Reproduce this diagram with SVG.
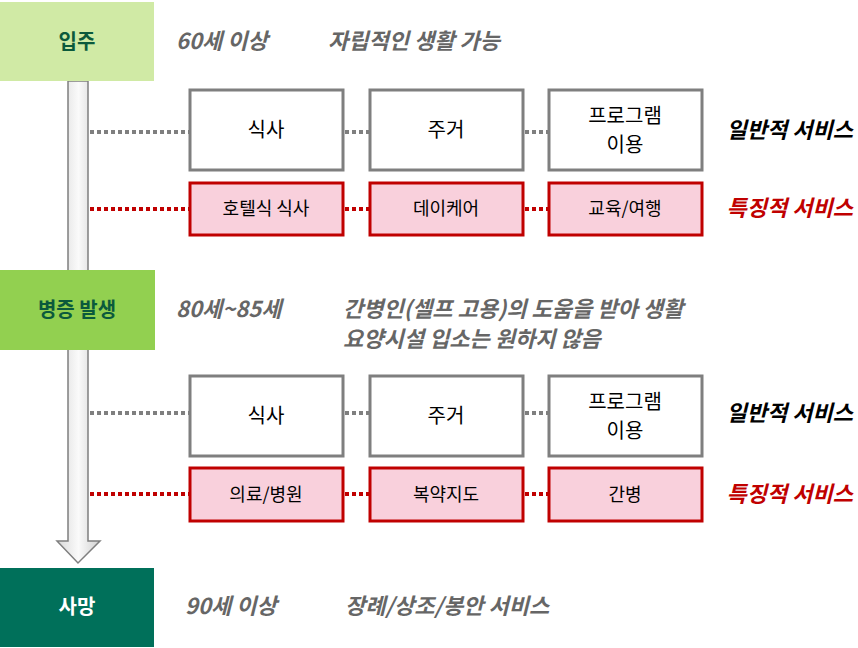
<svg xmlns="http://www.w3.org/2000/svg" width="858" height="648" viewBox="0 0 858 648">
<style>
text{font-family:"Noto Sans CJK KR","Noto Sans",sans-serif;}
.w{fill:#fff;stroke:#7f7f7f;stroke-width:3}
.p{fill:#f9d0dc;stroke:#c00000;stroke-width:3}
.t{font-size:20px;fill:#000;text-anchor:middle}
.ts{font-size:18px;fill:#000;text-anchor:middle}
.g{stroke:#7f7f7f;stroke-width:4;stroke-dasharray:4 3;fill:none}
.r{stroke:#c00000;stroke-width:4;stroke-dasharray:4 3;fill:none}
.note{font-size:22px;font-weight:bold;font-style:italic;fill:#666}
.lb{font-size:22px;font-weight:bold;font-style:italic;text-anchor:end}
.st{font-size:20px;font-weight:bold;text-anchor:middle}
</style>
<defs><linearGradient id="ag" x1="0" x2="1"><stop offset="0" stop-color="#d9d9d9"/><stop offset="0.5" stop-color="#fafafa"/><stop offset="1" stop-color="#d0d0d0"/></linearGradient></defs>
<g id="arrow"><path d="M68 81 H88 V541 H100 L78 563 L57 541 H68 Z" fill="url(#ag)" stroke="#7f7f7f" stroke-width="1.5"/></g>
<g id="connectors">
<path class="g" d="M90 132 H190 M345 132 H370 M525 132 H549"/>
<path class="r" d="M90 209 H190 M345 209 H370 M525 209 H549"/>
<path class="g" d="M90 413 H190 M345 413 H370 M525 413 H549"/>
<path class="r" d="M90 494 H190 M345 494 H370 M525 494 H549"/>
</g>
<g id="s1"><rect x="0" y="2" width="154" height="79" fill="#d0eaa5"/><text class="st" x="77" y="49" fill="#0b5a3c">입주</text></g>
<g id="s2"><rect x="0" y="270" width="155" height="80" fill="#92d050"/><text class="st" x="77" y="317" fill="#0b5a3c">병증 발생</text></g>
<g id="s3"><rect x="0" y="568" width="154" height="79" fill="#00705a"/><text class="st" x="77" y="614" fill="#fff">사망</text></g>
<g id="notes">
<text class="note" x="176" y="49">60세 이상</text><text class="note" x="328" y="49">자립적인 생활 가능</text>
<text class="note" x="176" y="317">80세~85세</text><text class="note" x="343" y="317">간병인(셀프 고용)의 도움을 받아 생활</text>
<text class="note" x="343" y="347">요양시설 입소는 원하지 않음</text>
<text class="note" x="185" y="614">90세 이상</text><text class="note" x="345" y="614">장례/상조/봉안 서비스</text>
</g>
<g id="n1"><rect class="w" x="190" y="90" width="153" height="80"/><text class="t" x="266" y="137">식사</text></g>
<g id="n2"><rect class="w" x="370" y="90" width="153" height="80"/><text class="t" x="446" y="137">주거</text></g>
<g id="n3"><rect class="w" x="549" y="90" width="153" height="80"/><text class="t" x="625" y="123">프로그램</text><text class="t" x="625" y="152">이용</text></g>
<g id="n4"><rect class="p" x="190" y="183" width="153" height="52"/><text class="ts" x="266" y="215">호텔식 식사</text></g>
<g id="n5"><rect class="p" x="370" y="183" width="153" height="52"/><text class="ts" x="446" y="215">데이케어</text></g>
<g id="n6"><rect class="p" x="549" y="183" width="153" height="52"/><text class="ts" x="625" y="215">교육/여행</text></g>
<g id="n7"><rect class="w" x="190" y="376" width="153" height="80"/><text class="t" x="266" y="423">식사</text></g>
<g id="n8"><rect class="w" x="370" y="376" width="153" height="80"/><text class="t" x="446" y="423">주거</text></g>
<g id="n9"><rect class="w" x="549" y="376" width="153" height="80"/><text class="t" x="625" y="409">프로그램</text><text class="t" x="625" y="438">이용</text></g>
<g id="n10"><rect class="p" x="190" y="468" width="153" height="53"/><text class="ts" x="266" y="501">의료/병원</text></g>
<g id="n11"><rect class="p" x="370" y="468" width="153" height="53"/><text class="ts" x="446" y="501">복약지도</text></g>
<g id="n12"><rect class="p" x="549" y="468" width="153" height="53"/><text class="ts" x="625" y="501">간병</text></g>
<g id="labels">
<text class="lb" x="853" y="138" fill="#000">일반적 서비스</text>
<text class="lb" x="853" y="216" fill="#c00000">특징적 서비스</text>
<text class="lb" x="853" y="421" fill="#000">일반적 서비스</text>
<text class="lb" x="853" y="502" fill="#c00000">특징적 서비스</text>
</g>
</svg>
